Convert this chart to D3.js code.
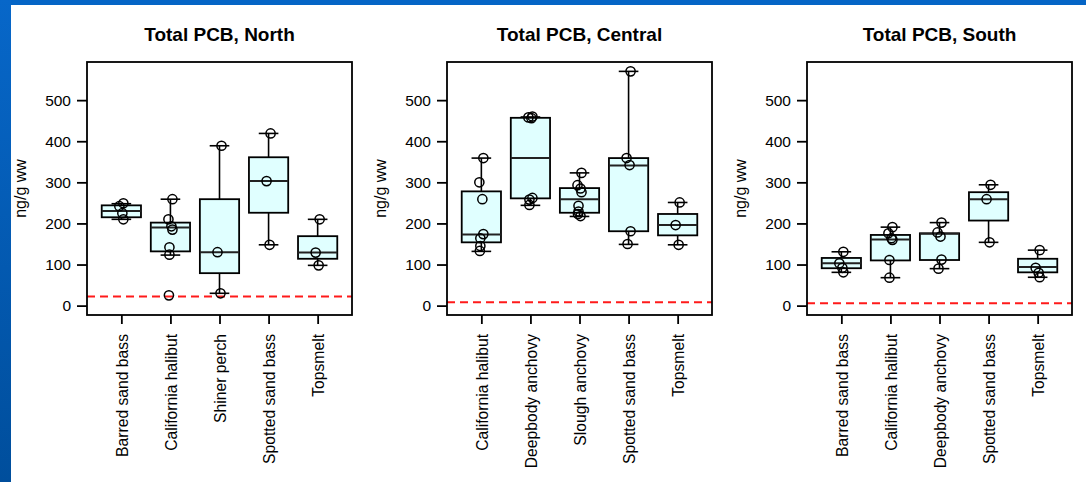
<!DOCTYPE html>
<html>
<head>
<meta charset="utf-8">
<script src="https://cdn.jsdelivr.net/npm/d3@7"></script>
<style>
  html, body { margin: 0; padding: 0; background: #ffffff; }
  svg { display: block; }
  text { font-family: "Liberation Sans", Arial, Helvetica, sans-serif; fill: #000; }
</style>
</head>
<body>
<script>
// ---------- data ----------
const yTickValues = [0, 100, 200, 300, 400, 500];
const yLabel = "ng/g ww";

const northTitle = "Total PCB, North";
const northSpecies = ["Barred sand bass", "California halibut", "Shiner perch", "Spotted sand bass", "Topsmelt"];
const northLow    = [210, 123, 30, 148, 98];
const northQ1     = [215, 132, 79, 226, 114];
const northMedian = [230, 190, 130, 303, 129];
const northQ3     = [244, 202, 259, 361, 169];
const northHigh   = [248, 259, 389, 419, 210];
const northPoints = [[249, 242, 225, 210], [259, 210, 193, 185, 142, 124, 25], [389, 130, 30], [419, 303, 148], [210, 129, 98]];
const northThreshold = 22;

const centralTitle = "Total PCB, Central";
const centralSpecies = ["California halibut", "Deepbody anchovy", "Slough anchovy", "Spotted sand bass", "Topsmelt"];
const centralLow    = [132, 244, 217, 149, 148];
const centralQ1     = [154, 261, 226, 181, 171];
const centralMedian = [173, 359, 259, 341, 196];
const centralQ3     = [278, 457, 286, 359, 223];
const centralHigh   = [359, 459, 323, 570, 251];
const centralPoints = [[359, 300, 259, 174, 164, 145, 133], [460, 458, 456, 262, 258, 245], [323, 293, 285, 276, 243, 229, 223, 218], [570, 359, 342, 181, 150], [251, 196, 148]];
const centralThreshold = 8;

const southTitle = "Total PCB, South";
const southSpecies = ["Barred sand bass", "California halibut", "Deepbody anchovy", "Spotted sand bass", "Topsmelt"];
const southLow    = [81, 68, 90, 154, 69];
const southQ1     = [91, 110, 111, 207, 81];
const southMedian = [103, 161, 175, 259, 94];
const southQ3     = [116, 172, 176, 276, 114];
const southHigh   = [131, 191, 202, 294, 135];
const southPoints = [[131, 103, 92, 81], [191, 176, 164, 160, 111, 68], [202, 178, 168, 112, 90], [294, 259, 154], [135, 92, 80, 69]];
const southThreshold = 6;

const yLimits = [0, 570];

// ---------- layout ----------
const W = 1086, H = 482;
const panelOffsets = [0, 360, 720];
const plotLeft = 87, plotRight = 352, plotTop = 62, plotBottom = 315;

const panels = [
  { title: northTitle, species: northSpecies, low: northLow, q1: northQ1, med: northMedian, q3: northQ3, high: northHigh, pts: northPoints, thr: northThreshold },
  { title: centralTitle, species: centralSpecies, low: centralLow, q1: centralQ1, med: centralMedian, q3: centralQ3, high: centralHigh, pts: centralPoints, thr: centralThreshold },
  { title: southTitle, species: southSpecies, low: southLow, q1: southQ1, med: southMedian, q3: southQ3, high: southHigh, pts: southPoints, thr: southThreshold }
];

const svg = d3.select("body").append("svg").attr("width", W).attr("height", H);

// slide-style blue border
const defs = svg.append("defs");
const grad = defs.append("linearGradient").attr("id", "leftBar").attr("x1", 0).attr("y1", 0).attr("x2", 0).attr("y2", 1);
grad.append("stop").attr("offset", "0%").attr("stop-color", "#0767C9");
grad.append("stop").attr("offset", "100%").attr("stop-color", "#004E9C");
svg.append("rect").attr("x", 0).attr("y", 0).attr("width", W).attr("height", 5).attr("fill", "#0565C6");
svg.append("rect").attr("x", 0).attr("y", 0).attr("width", 11).attr("height", H).attr("fill", "url(#leftBar)");

const ext = (yLimits[1] - yLimits[0]) * 0.04;
const y = d3.scaleLinear().domain([yLimits[0] - ext, yLimits[1] + ext]).range([plotBottom, plotTop]);

const jitter = [2, -2, 1, 2, -1, -1, -1.5, 1];

panels.forEach((p, pi) => {
  const g = svg.append("g").attr("transform", `translate(${panelOffsets[pi]},0)`);
  const x = d3.scalePoint().domain(p.species).range([plotLeft, plotRight]).padding(0.7);
  const bw = x.step() * 0.8;
  const cap = bw * 0.5;

  const clipId = "clip" + pi;
  g.append("clipPath").attr("id", clipId).append("rect")
    .attr("x", plotLeft).attr("y", plotTop).attr("width", plotRight - plotLeft).attr("height", plotBottom - plotTop);

  // title
  g.append("text").attr("x", (plotLeft + plotRight) / 2).attr("y", 41)
    .attr("text-anchor", "middle").style("font-size", "19px").style("font-weight", "bold").text(p.title);

  // y axis label
  g.append("text").attr("transform", `translate(25.5,${(plotTop + plotBottom) / 2}) rotate(-90)`)
    .attr("text-anchor", "middle").style("font-size", "16px").text(yLabel);

  // y axis
  const ya = g.append("g").attr("transform", `translate(${plotLeft},0)`)
    .call(d3.axisLeft(y).tickValues(yTickValues).tickSize(10).tickPadding(6).tickFormat(d3.format("d")));
  ya.select(".domain").remove();
  ya.selectAll(".tick line").attr("stroke", "#000").attr("stroke-width", 1.8);
  ya.selectAll(".tick text").style("font-size", "15.5px").style("font-family", "'Liberation Sans', Arial, sans-serif").attr("fill", "#000");

  // x axis
  const xa = g.append("g").attr("transform", `translate(0,${plotBottom})`)
    .call(d3.axisBottom(x).tickSize(9).tickFormat(d => d));
  xa.select(".domain").remove();
  xa.selectAll(".tick line").attr("stroke", "#000").attr("stroke-width", 1.8);
  xa.selectAll(".tick text")
    .style("font-size", "15.7px").style("font-family", "'Liberation Sans', Arial, sans-serif").attr("fill", "#000")
    .attr("text-anchor", "end")
    .attr("transform", "rotate(-90)")
    .attr("x", -19).attr("y", 0).attr("dy", "0.36em");

  // threshold line
  g.append("line").attr("clip-path", `url(#${clipId})`)
    .attr("x1", plotLeft).attr("x2", plotRight).attr("y1", y(p.thr)).attr("y2", y(p.thr))
    .attr("stroke", "#ff1a1a").attr("stroke-width", 2).attr("stroke-dasharray", "8,5");

  // boxes
  const idx = d3.range(p.species.length);
  const bg = g.append("g").attr("clip-path", `url(#${clipId})`);
  idx.forEach(i => {
    const cx = x(p.species[i]);
    // whiskers
    bg.append("line").attr("x1", cx).attr("x2", cx).attr("y1", y(p.q3[i])).attr("y2", y(p.high[i]))
      .attr("stroke", "#000").attr("stroke-width", 1.6);
    bg.append("line").attr("x1", cx).attr("x2", cx).attr("y1", y(p.q1[i])).attr("y2", y(p.low[i]))
      .attr("stroke", "#000").attr("stroke-width", 1.6);
    bg.append("line").attr("x1", cx - cap / 2).attr("x2", cx + cap / 2).attr("y1", y(p.high[i])).attr("y2", y(p.high[i]))
      .attr("stroke", "#000").attr("stroke-width", 1.6);
    bg.append("line").attr("x1", cx - cap / 2).attr("x2", cx + cap / 2).attr("y1", y(p.low[i])).attr("y2", y(p.low[i]))
      .attr("stroke", "#000").attr("stroke-width", 1.6);
    // box
    bg.append("rect").attr("x", cx - bw / 2).attr("width", bw)
      .attr("y", y(p.q3[i])).attr("height", y(p.q1[i]) - y(p.q3[i]))
      .attr("fill", "#e0ffff").attr("stroke", "#000").attr("stroke-width", 1.8);
    // median
    bg.append("line").attr("x1", cx - bw / 2).attr("x2", cx + bw / 2).attr("y1", y(p.med[i])).attr("y2", y(p.med[i]))
      .attr("stroke", "#222").attr("stroke-width", 2);
    // points
    bg.selectAll(null).data(p.pts[i]).enter().append("circle")
      .attr("cx", (d, k) => cx + jitter[k % jitter.length])
      .attr("cy", d => y(d))
      .attr("r", 4.6)
      .attr("fill", "none").attr("stroke", "#000").attr("stroke-width", 1.5);
  });

  // frame
  g.append("rect").attr("x", plotLeft).attr("y", plotTop).attr("width", plotRight - plotLeft).attr("height", plotBottom - plotTop)
    .attr("fill", "none").attr("stroke", "#000").attr("stroke-width", 1.8);
});
</script>
</body>
</html>
